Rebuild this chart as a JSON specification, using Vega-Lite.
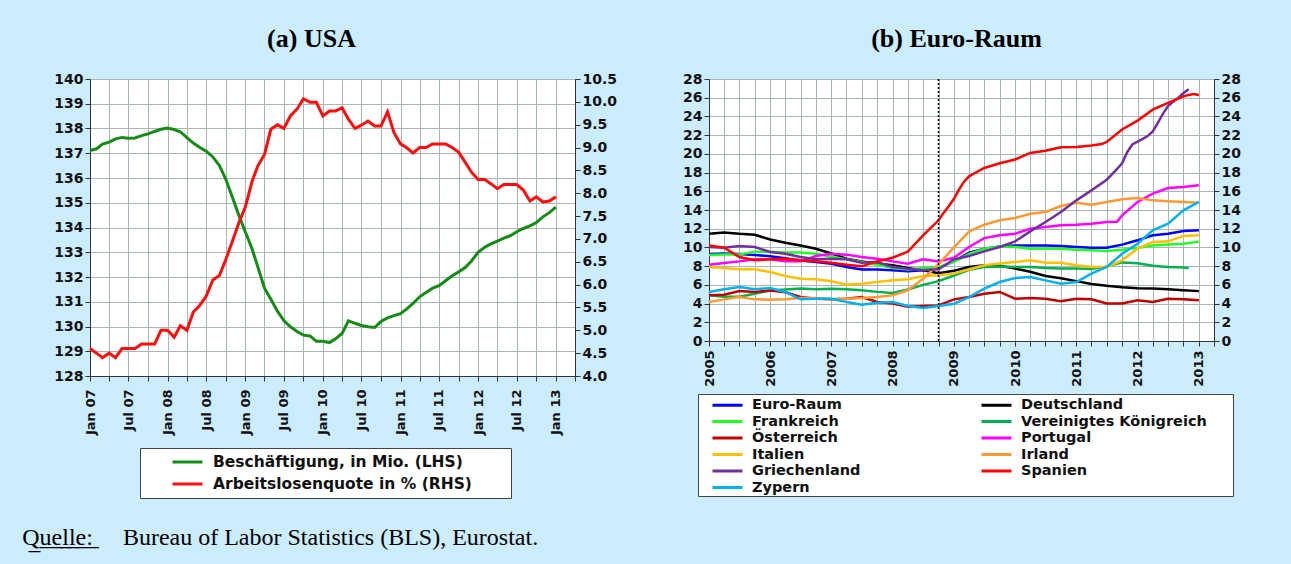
{
  "$schema": "https://vega.github.io/schema/vega-lite/v6.json",
  "background": "#CCECFF",
  "padding": {"left": 22, "top": 25, "right": 51, "bottom": 24},
  "autosize": {"type": "pad"},
  "title": {
    "text": "Q\u0332u\u0332e\u0332l\u0332l\u0332e\u0332:\u0332\u00a0\u00a0\u00a0\u00a0\u00a0Bureau of Labor Statistics (BLS), Eurostat.",
    "orient": "bottom", "anchor": "start", "frame": "bounds",
    "font": "Liberation Serif", "fontSize": 24, "fontWeight": "normal", "color": "black",
    "offset": 27, "dx": -31
  },
  "datasets": {
    "us": [
      {"d":"2007-01-01","emp":137.11,"ue":4.6},{"d":"2007-02-01","emp":137.18,"ue":4.5},{"d":"2007-03-01","emp":137.37,"ue":4.4},
      {"d":"2007-04-01","emp":137.45,"ue":4.5},{"d":"2007-05-01","emp":137.58,"ue":4.4},{"d":"2007-06-01","emp":137.64,"ue":4.6},
      {"d":"2007-07-01","emp":137.61,"ue":4.6},{"d":"2007-08-01","emp":137.62,"ue":4.6},{"d":"2007-09-01","emp":137.71,"ue":4.7},
      {"d":"2007-10-01","emp":137.78,"ue":4.7},{"d":"2007-11-01","emp":137.88,"ue":4.7},{"d":"2007-12-01","emp":137.97,"ue":5.0},
      {"d":"2008-01-01","emp":138.02,"ue":5.0},{"d":"2008-02-01","emp":137.96,"ue":4.85},{"d":"2008-03-01","emp":137.87,"ue":5.1},
      {"d":"2008-04-01","emp":137.63,"ue":5.0},{"d":"2008-05-01","emp":137.41,"ue":5.4},{"d":"2008-06-01","emp":137.23,"ue":5.55},
      {"d":"2008-07-01","emp":137.08,"ue":5.75},{"d":"2008-08-01","emp":136.85,"ue":6.1},{"d":"2008-09-01","emp":136.5,"ue":6.2},
      {"d":"2008-10-01","emp":135.95,"ue":6.55},{"d":"2008-11-01","emp":135.22,"ue":6.95},{"d":"2008-12-01","emp":134.5,"ue":7.35},
      {"d":"2009-01-01","emp":133.82,"ue":7.7},{"d":"2009-02-01","emp":133.15,"ue":8.25},{"d":"2009-03-01","emp":132.4,"ue":8.6},
      {"d":"2009-04-01","emp":131.55,"ue":8.85},{"d":"2009-05-01","emp":131.1,"ue":9.4},{"d":"2009-06-01","emp":130.62,"ue":9.5},
      {"d":"2009-07-01","emp":130.24,"ue":9.42},{"d":"2009-08-01","emp":129.99,"ue":9.69},{"d":"2009-09-01","emp":129.8,"ue":9.84},
      {"d":"2009-10-01","emp":129.65,"ue":10.07},{"d":"2009-11-01","emp":129.62,"ue":9.99},{"d":"2009-12-01","emp":129.4,"ue":9.99},
      {"d":"2010-01-01","emp":129.4,"ue":9.69},{"d":"2010-02-01","emp":129.35,"ue":9.8},{"d":"2010-03-01","emp":129.5,"ue":9.8},
      {"d":"2010-04-01","emp":129.72,"ue":9.87},{"d":"2010-05-01","emp":130.23,"ue":9.62},{"d":"2010-06-01","emp":130.13,"ue":9.42},
      {"d":"2010-07-01","emp":130.04,"ue":9.49},{"d":"2010-08-01","emp":129.99,"ue":9.58},{"d":"2010-09-01","emp":129.96,"ue":9.47},
      {"d":"2010-10-01","emp":130.2,"ue":9.47},{"d":"2010-11-01","emp":130.35,"ue":9.78},{"d":"2010-12-01","emp":130.44,"ue":9.33},
      {"d":"2011-01-01","emp":130.52,"ue":9.08},{"d":"2011-02-01","emp":130.72,"ue":8.99},{"d":"2011-03-01","emp":130.93,"ue":8.88},
      {"d":"2011-04-01","emp":131.2,"ue":9.0},{"d":"2011-05-01","emp":131.37,"ue":9.0},{"d":"2011-06-01","emp":131.55,"ue":9.08},
      {"d":"2011-07-01","emp":131.65,"ue":9.08},{"d":"2011-08-01","emp":131.85,"ue":9.08},{"d":"2011-09-01","emp":132.05,"ue":9.0},
      {"d":"2011-10-01","emp":132.2,"ue":8.9},{"d":"2011-11-01","emp":132.38,"ue":8.68},{"d":"2011-12-01","emp":132.65,"ue":8.46},
      {"d":"2012-01-01","emp":133.0,"ue":8.3},{"d":"2012-02-01","emp":133.2,"ue":8.3},{"d":"2012-03-01","emp":133.34,"ue":8.21},
      {"d":"2012-04-01","emp":133.45,"ue":8.1},{"d":"2012-05-01","emp":133.57,"ue":8.19},{"d":"2012-06-01","emp":133.67,"ue":8.19},
      {"d":"2012-07-01","emp":133.83,"ue":8.19},{"d":"2012-08-01","emp":133.96,"ue":8.07},{"d":"2012-09-01","emp":134.07,"ue":7.83},
      {"d":"2012-10-01","emp":134.2,"ue":7.92},{"d":"2012-11-01","emp":134.43,"ue":7.81},{"d":"2012-12-01","emp":134.6,"ue":7.83},
      {"d":"2013-01-01","emp":134.82,"ue":7.92}
    ],
    "ez": [
      {"c":"Euro-Raum","d":"2005-01-01","v":9.3},{"c":"Euro-Raum","d":"2005-04-01","v":9.35},{"c":"Euro-Raum","d":"2005-07-01","v":9.3},{"c":"Euro-Raum","d":"2005-10-01","v":9.2},
      {"c":"Euro-Raum","d":"2006-01-01","v":9.05},{"c":"Euro-Raum","d":"2006-04-01","v":8.85},{"c":"Euro-Raum","d":"2006-07-01","v":8.6},{"c":"Euro-Raum","d":"2006-10-01","v":8.45},
      {"c":"Euro-Raum","d":"2007-01-01","v":8.25},{"c":"Euro-Raum","d":"2007-04-01","v":7.9},{"c":"Euro-Raum","d":"2007-07-01","v":7.65},{"c":"Euro-Raum","d":"2007-10-01","v":7.65},
      {"c":"Euro-Raum","d":"2008-01-01","v":7.55},{"c":"Euro-Raum","d":"2008-04-01","v":7.45},{"c":"Euro-Raum","d":"2008-07-01","v":7.55},{"c":"Euro-Raum","d":"2008-10-01","v":7.8},
      {"c":"Euro-Raum","d":"2009-01-01","v":8.5},{"c":"Euro-Raum","d":"2009-04-01","v":9.44},{"c":"Euro-Raum","d":"2009-07-01","v":9.87},{"c":"Euro-Raum","d":"2009-10-01","v":10.1},
      {"c":"Euro-Raum","d":"2010-01-01","v":10.2},{"c":"Euro-Raum","d":"2010-04-01","v":10.2},{"c":"Euro-Raum","d":"2010-07-01","v":10.2},{"c":"Euro-Raum","d":"2010-10-01","v":10.15},
      {"c":"Euro-Raum","d":"2011-01-01","v":10.05},{"c":"Euro-Raum","d":"2011-04-01","v":9.97},{"c":"Euro-Raum","d":"2011-07-01","v":9.97},{"c":"Euro-Raum","d":"2011-10-01","v":10.3},
      {"c":"Euro-Raum","d":"2012-01-01","v":10.76},{"c":"Euro-Raum","d":"2012-04-01","v":11.3},{"c":"Euro-Raum","d":"2012-07-01","v":11.47},{"c":"Euro-Raum","d":"2012-10-01","v":11.76},
      {"c":"Euro-Raum","d":"2013-01-01","v":11.83},

      {"c":"Deutschland","d":"2005-01-01","v":11.47},{"c":"Deutschland","d":"2005-04-01","v":11.6},{"c":"Deutschland","d":"2005-07-01","v":11.45},{"c":"Deutschland","d":"2005-10-01","v":11.35},
      {"c":"Deutschland","d":"2006-01-01","v":10.85},{"c":"Deutschland","d":"2006-04-01","v":10.5},{"c":"Deutschland","d":"2006-07-01","v":10.2},{"c":"Deutschland","d":"2006-10-01","v":9.85},
      {"c":"Deutschland","d":"2007-01-01","v":9.35},{"c":"Deutschland","d":"2007-04-01","v":8.8},{"c":"Deutschland","d":"2007-07-01","v":8.5},{"c":"Deutschland","d":"2007-10-01","v":8.27},
      {"c":"Deutschland","d":"2008-01-01","v":8.1},{"c":"Deutschland","d":"2008-04-01","v":7.8},{"c":"Deutschland","d":"2008-07-01","v":7.55},{"c":"Deutschland","d":"2008-10-01","v":7.25},
      {"c":"Deutschland","d":"2009-01-01","v":7.5},{"c":"Deutschland","d":"2009-04-01","v":7.9},{"c":"Deutschland","d":"2009-07-01","v":8.1},{"c":"Deutschland","d":"2009-10-01","v":8.05},
      {"c":"Deutschland","d":"2010-01-01","v":7.75},{"c":"Deutschland","d":"2010-04-01","v":7.4},{"c":"Deutschland","d":"2010-07-01","v":6.95},{"c":"Deutschland","d":"2010-10-01","v":6.7},
      {"c":"Deutschland","d":"2011-01-01","v":6.4},{"c":"Deutschland","d":"2011-04-01","v":6.1},{"c":"Deutschland","d":"2011-07-01","v":5.9},{"c":"Deutschland","d":"2011-10-01","v":5.75},
      {"c":"Deutschland","d":"2012-01-01","v":5.65},{"c":"Deutschland","d":"2012-04-01","v":5.6},{"c":"Deutschland","d":"2012-07-01","v":5.52},{"c":"Deutschland","d":"2012-10-01","v":5.42},
      {"c":"Deutschland","d":"2013-01-01","v":5.33},

      {"c":"Frankreich","d":"2005-01-01","v":9.2},{"c":"Frankreich","d":"2005-04-01","v":9.25},{"c":"Frankreich","d":"2005-07-01","v":9.25},{"c":"Frankreich","d":"2005-10-01","v":9.55},
      {"c":"Frankreich","d":"2006-01-01","v":9.55},{"c":"Frankreich","d":"2006-04-01","v":9.45},{"c":"Frankreich","d":"2006-07-01","v":9.45},{"c":"Frankreich","d":"2006-10-01","v":9.33},
      {"c":"Frankreich","d":"2007-01-01","v":9.0},{"c":"Frankreich","d":"2007-04-01","v":8.73},{"c":"Frankreich","d":"2007-07-01","v":8.45},{"c":"Frankreich","d":"2007-10-01","v":8.15},
      {"c":"Frankreich","d":"2008-01-01","v":7.8},{"c":"Frankreich","d":"2008-04-01","v":7.65},{"c":"Frankreich","d":"2008-07-01","v":7.8},{"c":"Frankreich","d":"2008-10-01","v":7.9},
      {"c":"Frankreich","d":"2009-01-01","v":8.45},{"c":"Frankreich","d":"2009-04-01","v":9.3},{"c":"Frankreich","d":"2009-07-01","v":9.85},{"c":"Frankreich","d":"2009-10-01","v":10.1},
      {"c":"Frankreich","d":"2010-01-01","v":10.05},{"c":"Frankreich","d":"2010-04-01","v":9.87},{"c":"Frankreich","d":"2010-07-01","v":9.85},{"c":"Frankreich","d":"2010-10-01","v":9.85},
      {"c":"Frankreich","d":"2011-01-01","v":9.75},{"c":"Frankreich","d":"2011-04-01","v":9.7},{"c":"Frankreich","d":"2011-07-01","v":9.62},{"c":"Frankreich","d":"2011-10-01","v":9.75},
      {"c":"Frankreich","d":"2012-01-01","v":9.95},{"c":"Frankreich","d":"2012-04-01","v":10.2},{"c":"Frankreich","d":"2012-07-01","v":10.3},{"c":"Frankreich","d":"2012-10-01","v":10.4},
      {"c":"Frankreich","d":"2013-01-01","v":10.62},

      {"c":"Vereinigtes Königreich","d":"2005-01-01","v":4.88},{"c":"Vereinigtes Königreich","d":"2005-04-01","v":4.72},{"c":"Vereinigtes Königreich","d":"2005-07-01","v":4.72},{"c":"Vereinigtes Königreich","d":"2005-10-01","v":5.05},
      {"c":"Vereinigtes Königreich","d":"2006-01-01","v":5.4},{"c":"Vereinigtes Königreich","d":"2006-04-01","v":5.5},{"c":"Vereinigtes Königreich","d":"2006-07-01","v":5.6},{"c":"Vereinigtes Königreich","d":"2006-10-01","v":5.52},
      {"c":"Vereinigtes Königreich","d":"2007-01-01","v":5.58},{"c":"Vereinigtes Königreich","d":"2007-04-01","v":5.52},{"c":"Vereinigtes Königreich","d":"2007-07-01","v":5.42},{"c":"Vereinigtes Königreich","d":"2007-10-01","v":5.25},
      {"c":"Vereinigtes Königreich","d":"2008-01-01","v":5.13},{"c":"Vereinigtes Königreich","d":"2008-04-01","v":5.5},{"c":"Vereinigtes Königreich","d":"2008-07-01","v":6.0},{"c":"Vereinigtes Königreich","d":"2008-10-01","v":6.4},
      {"c":"Vereinigtes Königreich","d":"2009-01-01","v":7.0},{"c":"Vereinigtes Königreich","d":"2009-04-01","v":7.6},{"c":"Vereinigtes Königreich","d":"2009-07-01","v":7.9},{"c":"Vereinigtes Königreich","d":"2009-10-01","v":7.95},
      {"c":"Vereinigtes Königreich","d":"2010-01-01","v":7.9},{"c":"Vereinigtes Königreich","d":"2010-04-01","v":7.9},{"c":"Vereinigtes Königreich","d":"2010-07-01","v":7.8},{"c":"Vereinigtes Königreich","d":"2010-10-01","v":7.75},
      {"c":"Vereinigtes Königreich","d":"2011-01-01","v":7.75},{"c":"Vereinigtes Königreich","d":"2011-04-01","v":7.7},{"c":"Vereinigtes Königreich","d":"2011-07-01","v":7.95},{"c":"Vereinigtes Königreich","d":"2011-10-01","v":8.4},
      {"c":"Vereinigtes Königreich","d":"2012-01-01","v":8.3},{"c":"Vereinigtes Königreich","d":"2012-04-01","v":8.05},{"c":"Vereinigtes Königreich","d":"2012-07-01","v":7.9},{"c":"Vereinigtes Königreich","d":"2012-10-01","v":7.85},
      {"c":"Vereinigtes Königreich","d":"2012-11-01","v":7.8},

      {"c":"Österreich","d":"2005-01-01","v":4.88},{"c":"Österreich","d":"2005-04-01","v":4.95},{"c":"Österreich","d":"2005-07-01","v":5.35},{"c":"Österreich","d":"2005-10-01","v":5.24},
      {"c":"Österreich","d":"2006-01-01","v":5.4},{"c":"Österreich","d":"2006-04-01","v":5.2},{"c":"Österreich","d":"2006-07-01","v":4.7},{"c":"Österreich","d":"2006-10-01","v":4.52},
      {"c":"Österreich","d":"2007-01-01","v":4.45},{"c":"Österreich","d":"2007-04-01","v":4.52},{"c":"Österreich","d":"2007-07-01","v":4.7},{"c":"Österreich","d":"2007-10-01","v":4.17},
      {"c":"Österreich","d":"2008-01-01","v":4.0},{"c":"Österreich","d":"2008-04-01","v":3.65},{"c":"Österreich","d":"2008-07-01","v":3.75},{"c":"Österreich","d":"2008-10-01","v":3.8},
      {"c":"Österreich","d":"2009-01-01","v":4.45},{"c":"Österreich","d":"2009-04-01","v":4.7},{"c":"Österreich","d":"2009-07-01","v":5.05},{"c":"Österreich","d":"2009-10-01","v":5.24},
      {"c":"Österreich","d":"2010-01-01","v":4.52},{"c":"Österreich","d":"2010-04-01","v":4.6},{"c":"Österreich","d":"2010-07-01","v":4.52},{"c":"Österreich","d":"2010-10-01","v":4.24},
      {"c":"Österreich","d":"2011-01-01","v":4.52},{"c":"Österreich","d":"2011-04-01","v":4.45},{"c":"Österreich","d":"2011-07-01","v":4.0},{"c":"Österreich","d":"2011-10-01","v":4.0},
      {"c":"Österreich","d":"2012-01-01","v":4.35},{"c":"Österreich","d":"2012-04-01","v":4.17},{"c":"Österreich","d":"2012-07-01","v":4.52},{"c":"Österreich","d":"2012-10-01","v":4.45},
      {"c":"Österreich","d":"2013-01-01","v":4.35},

      {"c":"Portugal","d":"2005-01-01","v":8.16},{"c":"Portugal","d":"2005-04-01","v":8.34},{"c":"Portugal","d":"2005-07-01","v":8.51},{"c":"Portugal","d":"2005-10-01","v":8.73},
      {"c":"Portugal","d":"2006-01-01","v":8.73},{"c":"Portugal","d":"2006-04-01","v":8.51},{"c":"Portugal","d":"2006-07-01","v":8.51},{"c":"Portugal","d":"2006-10-01","v":9.08},
      {"c":"Portugal","d":"2007-01-01","v":9.33},{"c":"Portugal","d":"2007-04-01","v":9.23},{"c":"Portugal","d":"2007-07-01","v":8.98},{"c":"Portugal","d":"2007-10-01","v":8.8},
      {"c":"Portugal","d":"2008-01-01","v":8.51},{"c":"Portugal","d":"2008-04-01","v":8.27},{"c":"Portugal","d":"2008-07-01","v":8.73},{"c":"Portugal","d":"2008-10-01","v":8.51},
      {"c":"Portugal","d":"2009-01-01","v":8.9},{"c":"Portugal","d":"2009-04-01","v":10.05},{"c":"Portugal","d":"2009-07-01","v":11.0},{"c":"Portugal","d":"2009-10-01","v":11.29},
      {"c":"Portugal","d":"2010-01-01","v":11.47},{"c":"Portugal","d":"2010-04-01","v":12.0},{"c":"Portugal","d":"2010-07-01","v":12.18},{"c":"Portugal","d":"2010-10-01","v":12.36},
      {"c":"Portugal","d":"2011-01-01","v":12.43},{"c":"Portugal","d":"2011-04-01","v":12.54},{"c":"Portugal","d":"2011-07-01","v":12.72},{"c":"Portugal","d":"2011-09-01","v":12.75},{"c":"Portugal","d":"2011-10-01","v":13.43},
      {"c":"Portugal","d":"2012-01-01","v":14.86},{"c":"Portugal","d":"2012-04-01","v":15.75},{"c":"Portugal","d":"2012-07-01","v":16.35},{"c":"Portugal","d":"2012-10-01","v":16.46},
      {"c":"Portugal","d":"2013-01-01","v":16.64},

      {"c":"Italien","d":"2005-01-01","v":7.9},{"c":"Italien","d":"2005-04-01","v":7.8},{"c":"Italien","d":"2005-07-01","v":7.66},{"c":"Italien","d":"2005-10-01","v":7.66},
      {"c":"Italien","d":"2006-01-01","v":7.37},{"c":"Italien","d":"2006-04-01","v":6.95},{"c":"Italien","d":"2006-07-01","v":6.66},{"c":"Italien","d":"2006-10-01","v":6.59},
      {"c":"Italien","d":"2007-01-01","v":6.38},{"c":"Italien","d":"2007-04-01","v":6.02},{"c":"Italien","d":"2007-07-01","v":6.13},{"c":"Italien","d":"2007-10-01","v":6.3},
      {"c":"Italien","d":"2008-01-01","v":6.48},{"c":"Italien","d":"2008-04-01","v":6.59},{"c":"Italien","d":"2008-07-01","v":6.95},{"c":"Italien","d":"2008-10-01","v":7.02},
      {"c":"Italien","d":"2009-01-01","v":7.2},{"c":"Italien","d":"2009-04-01","v":7.66},{"c":"Italien","d":"2009-07-01","v":8.09},{"c":"Italien","d":"2009-10-01","v":8.27},
      {"c":"Italien","d":"2010-01-01","v":8.44},{"c":"Italien","d":"2010-04-01","v":8.62},{"c":"Italien","d":"2010-07-01","v":8.37},{"c":"Italien","d":"2010-10-01","v":8.37},
      {"c":"Italien","d":"2011-01-01","v":8.09},{"c":"Italien","d":"2011-04-01","v":7.91},{"c":"Italien","d":"2011-07-01","v":7.91},{"c":"Italien","d":"2011-10-01","v":8.62},
      {"c":"Italien","d":"2012-01-01","v":9.87},{"c":"Italien","d":"2012-04-01","v":10.58},{"c":"Italien","d":"2012-07-01","v":10.65},{"c":"Italien","d":"2012-10-01","v":11.22},
      {"c":"Italien","d":"2013-01-01","v":11.29},

      {"c":"Irland","d":"2005-01-01","v":4.17},{"c":"Irland","d":"2005-04-01","v":4.45},{"c":"Irland","d":"2005-07-01","v":4.7},{"c":"Irland","d":"2005-10-01","v":4.45},
      {"c":"Irland","d":"2006-01-01","v":4.42},{"c":"Irland","d":"2006-04-01","v":4.45},{"c":"Irland","d":"2006-07-01","v":4.6},{"c":"Irland","d":"2006-10-01","v":4.6},
      {"c":"Irland","d":"2007-01-01","v":4.45},{"c":"Irland","d":"2007-04-01","v":4.52},{"c":"Irland","d":"2007-07-01","v":4.6},{"c":"Irland","d":"2007-10-01","v":4.7},
      {"c":"Irland","d":"2008-01-01","v":4.88},{"c":"Irland","d":"2008-04-01","v":5.42},{"c":"Irland","d":"2008-07-01","v":6.66},{"c":"Irland","d":"2008-10-01","v":8.2},
      {"c":"Irland","d":"2009-01-01","v":10.0},{"c":"Irland","d":"2009-04-01","v":11.7},{"c":"Irland","d":"2009-07-01","v":12.43},{"c":"Irland","d":"2009-10-01","v":12.9},
      {"c":"Irland","d":"2010-01-01","v":13.15},{"c":"Irland","d":"2010-04-01","v":13.6},{"c":"Irland","d":"2010-07-01","v":13.79},{"c":"Irland","d":"2010-10-01","v":14.43},
      {"c":"Irland","d":"2011-01-01","v":14.78},{"c":"Irland","d":"2011-04-01","v":14.57},{"c":"Irland","d":"2011-07-01","v":14.86},{"c":"Irland","d":"2011-10-01","v":15.14},
      {"c":"Irland","d":"2012-01-01","v":15.28},{"c":"Irland","d":"2012-04-01","v":15.03},{"c":"Irland","d":"2012-07-01","v":14.93},{"c":"Irland","d":"2012-10-01","v":14.86},
      {"c":"Irland","d":"2013-01-01","v":14.78},

      {"c":"Griechenland","d":"2005-01-01","v":10.05},{"c":"Griechenland","d":"2005-04-01","v":9.97},{"c":"Griechenland","d":"2005-07-01","v":10.15},{"c":"Griechenland","d":"2005-10-01","v":10.05},
      {"c":"Griechenland","d":"2006-01-01","v":9.51},{"c":"Griechenland","d":"2006-04-01","v":9.33},{"c":"Griechenland","d":"2006-07-01","v":8.98},{"c":"Griechenland","d":"2006-10-01","v":8.73},
      {"c":"Griechenland","d":"2007-01-01","v":8.8},{"c":"Griechenland","d":"2007-04-01","v":8.73},{"c":"Griechenland","d":"2007-07-01","v":8.37},{"c":"Griechenland","d":"2007-10-01","v":8.44},
      {"c":"Griechenland","d":"2008-01-01","v":7.91},{"c":"Griechenland","d":"2008-04-01","v":7.73},{"c":"Griechenland","d":"2008-07-01","v":7.55},{"c":"Griechenland","d":"2008-10-01","v":7.66},
      {"c":"Griechenland","d":"2009-01-01","v":8.73},{"c":"Griechenland","d":"2009-04-01","v":9.08},{"c":"Griechenland","d":"2009-07-01","v":9.58},{"c":"Griechenland","d":"2009-10-01","v":10.05},
      {"c":"Griechenland","d":"2010-01-01","v":10.65},{"c":"Griechenland","d":"2010-04-01","v":11.72},{"c":"Griechenland","d":"2010-07-01","v":12.72},{"c":"Griechenland","d":"2010-10-01","v":13.79},
      {"c":"Griechenland","d":"2011-01-01","v":15.03},{"c":"Griechenland","d":"2011-04-01","v":16.1},{"c":"Griechenland","d":"2011-07-01","v":17.24},{"c":"Griechenland","d":"2011-08-01","v":17.8},
      {"c":"Griechenland","d":"2011-09-01","v":18.4},{"c":"Griechenland","d":"2011-10-01","v":19.0},{"c":"Griechenland","d":"2011-11-01","v":20.2},{"c":"Griechenland","d":"2011-12-01","v":21.0},
      {"c":"Griechenland","d":"2012-01-01","v":21.3},{"c":"Griechenland","d":"2012-02-01","v":21.6},{"c":"Griechenland","d":"2012-03-01","v":21.9},{"c":"Griechenland","d":"2012-04-01","v":22.4},
      {"c":"Griechenland","d":"2012-05-01","v":23.3},{"c":"Griechenland","d":"2012-06-01","v":24.3},{"c":"Griechenland","d":"2012-07-01","v":25.1},{"c":"Griechenland","d":"2012-08-01","v":25.6},
      {"c":"Griechenland","d":"2012-09-01","v":26.0},{"c":"Griechenland","d":"2012-10-01","v":26.5},{"c":"Griechenland","d":"2012-11-01","v":26.9},

      {"c":"Spanien","d":"2005-01-01","v":10.22},{"c":"Spanien","d":"2005-04-01","v":9.97},{"c":"Spanien","d":"2005-07-01","v":8.98},{"c":"Spanien","d":"2005-10-01","v":8.62},
      {"c":"Spanien","d":"2006-01-01","v":8.73},{"c":"Spanien","d":"2006-04-01","v":8.8},{"c":"Spanien","d":"2006-07-01","v":8.62},{"c":"Spanien","d":"2006-10-01","v":8.51},
      {"c":"Spanien","d":"2007-01-01","v":8.37},{"c":"Spanien","d":"2007-04-01","v":8.16},{"c":"Spanien","d":"2007-07-01","v":7.98},{"c":"Spanien","d":"2007-10-01","v":8.51},
      {"c":"Spanien","d":"2008-01-01","v":8.9},{"c":"Spanien","d":"2008-04-01","v":9.55},{"c":"Spanien","d":"2008-07-01","v":11.29},{"c":"Spanien","d":"2008-10-01","v":12.9},
      {"c":"Spanien","d":"2008-11-01","v":13.7},{"c":"Spanien","d":"2008-12-01","v":14.4},{"c":"Spanien","d":"2009-01-01","v":15.2},{"c":"Spanien","d":"2009-02-01","v":16.2},
      {"c":"Spanien","d":"2009-03-01","v":17.0},{"c":"Spanien","d":"2009-04-01","v":17.6},{"c":"Spanien","d":"2009-05-01","v":17.9},{"c":"Spanien","d":"2009-07-01","v":18.49},
      {"c":"Spanien","d":"2009-10-01","v":19.0},{"c":"Spanien","d":"2010-01-01","v":19.4},{"c":"Spanien","d":"2010-04-01","v":20.1},{"c":"Spanien","d":"2010-07-01","v":20.34},
      {"c":"Spanien","d":"2010-10-01","v":20.7},{"c":"Spanien","d":"2011-01-01","v":20.73},{"c":"Spanien","d":"2011-04-01","v":20.9},{"c":"Spanien","d":"2011-06-01","v":21.05},
      {"c":"Spanien","d":"2011-07-01","v":21.27},{"c":"Spanien","d":"2011-10-01","v":22.6},{"c":"Spanien","d":"2012-01-01","v":23.55},{"c":"Spanien","d":"2012-04-01","v":24.72},
      {"c":"Spanien","d":"2012-07-01","v":25.44},{"c":"Spanien","d":"2012-10-01","v":26.15},{"c":"Spanien","d":"2012-11-01","v":26.3},{"c":"Spanien","d":"2012-12-01","v":26.4},
      {"c":"Spanien","d":"2013-01-01","v":26.3},

      {"c":"Zypern","d":"2005-01-01","v":5.24},{"c":"Zypern","d":"2005-04-01","v":5.52},{"c":"Zypern","d":"2005-07-01","v":5.77},{"c":"Zypern","d":"2005-10-01","v":5.52},
      {"c":"Zypern","d":"2006-01-01","v":5.66},{"c":"Zypern","d":"2006-04-01","v":5.24},{"c":"Zypern","d":"2006-07-01","v":4.45},{"c":"Zypern","d":"2006-10-01","v":4.52},
      {"c":"Zypern","d":"2007-01-01","v":4.52},{"c":"Zypern","d":"2007-04-01","v":4.17},{"c":"Zypern","d":"2007-07-01","v":3.88},{"c":"Zypern","d":"2007-10-01","v":4.1},
      {"c":"Zypern","d":"2008-01-01","v":4.17},{"c":"Zypern","d":"2008-04-01","v":3.74},{"c":"Zypern","d":"2008-07-01","v":3.53},{"c":"Zypern","d":"2008-10-01","v":3.74},
      {"c":"Zypern","d":"2009-01-01","v":3.99},{"c":"Zypern","d":"2009-04-01","v":4.7},{"c":"Zypern","d":"2009-07-01","v":5.59},{"c":"Zypern","d":"2009-10-01","v":6.3},
      {"c":"Zypern","d":"2010-01-01","v":6.73},{"c":"Zypern","d":"2010-04-01","v":6.84},{"c":"Zypern","d":"2010-07-01","v":6.48},{"c":"Zypern","d":"2010-10-01","v":6.13},
      {"c":"Zypern","d":"2011-01-01","v":6.3},{"c":"Zypern","d":"2011-04-01","v":7.2},{"c":"Zypern","d":"2011-07-01","v":7.91},{"c":"Zypern","d":"2011-10-01","v":9.33},
      {"c":"Zypern","d":"2012-01-01","v":10.4},{"c":"Zypern","d":"2012-04-01","v":11.83},{"c":"Zypern","d":"2012-07-01","v":12.54},{"c":"Zypern","d":"2012-10-01","v":13.97},
      {"c":"Zypern","d":"2013-01-01","v":14.86}
    ],
    "event": [{"d": "2008-10-01"}]
  },
  "spacing": 64,
  "hconcat": [
    {
      "width": 485,
      "height": 297,
      "title": {"text": "(a) USA", "frame": "group", "dx": -21},
      "data": {"name": "us"},
      "layer": [
        {
          "mark": {"type": "line", "strokeWidth": 3},
          "encoding": {
            "x": {
              "field": "d", "type": "temporal",
              "scale": {"type": "utc", "domain": [{"year": 2007, "month": 1, "date": 1, "utc": true}, {"year": 2013, "month": 4, "date": 1, "utc": true}]},
              "axis": {
                "tickCount": {"interval": "month", "step": 3},
                "labelExpr": "utcmonth(datum.value) % 6 == 0 ? utcFormat(datum.value, '%b %y') : ''",
                "labelAngle": -90, "labelAlign": "right", "labelBaseline": "middle",
                "labelFontSize": 13, "labelPadding": 8, "labelOverlap": false, "labelFlush": false
              }
            },
            "y": {
              "field": "emp", "type": "quantitative",
              "scale": {"domain": [128, 140], "zero": false, "nice": false},
              "axis": {"orient": "left", "values": [128,129,130,131,132,133,134,135,136,137,138,139,140], "grid": true}
            },
            "color": {
              "datum": "Beschäftigung, in Mio. (LHS)",
              "scale": {"domain": ["Beschäftigung, in Mio. (LHS)", "Arbeitslosenquote in % (RHS)"], "range": ["#148c14", "#ff0d0d"]},
              "legend": {
                "orient": "none", "legendX": 50, "legendY": 369, "direction": "vertical",
                "title": "\u00a0", "titleOrient": "right", "titlePadding": 34, "titleFontSize": 8,
                "fillColor": "white", "strokeColor": "#444444", "padding": 5,
                "symbolType": "M-2,0H2", "symbolSize": 225, "symbolStrokeWidth": 3, "symbolOffset": 33.5,
                "labelOffset": 16.5, "rowPadding": 4, "labelFontSize": 15.5, "labelLimit": 400
              }
            }
          }
        },
        {
          "mark": {"type": "line", "strokeWidth": 3},
          "encoding": {
            "x": {"field": "d", "type": "temporal"},
            "y": {
              "field": "ue", "type": "quantitative",
              "scale": {"domain": [4, 10.5], "zero": false, "nice": false},
              "axis": {"orient": "right", "grid": false, "format": ".1f", "values": [4,4.5,5,5.5,6,6.5,7,7.5,8,8.5,9,9.5,10,10.5]}
            },
            "color": {"datum": "Arbeitslosenquote in % (RHS)"}
          }
        }
      ],
      "resolve": {"scale": {"y": "independent"}, "axis": {"y": "independent"}}
    },
    {
      "width": 505,
      "height": 262,
      "title": {"text": "(b) Euro-Raum", "frame": "group", "dx": -5},
      "layer": [
        {
          "data": {"name": "ez"},
          "mark": {"type": "line", "strokeWidth": 2.5},
          "encoding": {
            "x": {
              "field": "d", "type": "temporal",
              "scale": {"type": "utc", "domain": [{"year": 2005, "month": 1, "date": 1, "utc": true}, {"year": 2013, "month": 4, "date": 1, "utc": true}]},
              "axis": {
                "tickCount": {"interval": "month", "step": 3},
                "labelExpr": "utcmonth(datum.value) == 0 ? utcFormat(datum.value, '%Y') : ''",
                "labelAngle": -90, "labelAlign": "right", "labelBaseline": "middle",
                "labelFontSize": 13, "labelPadding": 4, "labelOverlap": false, "labelFlush": false
              }
            },
            "y": {
              "field": "v", "type": "quantitative",
              "scale": {"domain": [0, 28], "nice": false},
              "axis": {"orient": "left", "values": [0,2,4,6,8,10,12,14,16,18,20,22,24,26,28], "grid": true}
            },
            "color": {
              "field": "c", "type": "nominal",
              "scale": {
                "domain": ["Euro-Raum", "Deutschland", "Frankreich", "Vereinigtes Königreich", "Österreich", "Portugal", "Italien", "Irland", "Griechenland", "Spanien", "Zypern"],
                "range": ["#0000ff", "#000000", "#22ff22", "#00b050", "#c00000", "#ff00ff", "#ffc000", "#ff9933", "#7030a0", "#ff0000", "#00b0f0"]
              },
              "legend": {
                "orient": "none", "legendX": -11, "legendY": 315, "columns": 2, "direction": "horizontal",
                "title": "\u00a0", "titleOrient": "right", "titlePadding": 24, "titleFontSize": 8,
                "fillColor": "white", "strokeColor": "#444444", "padding": 2,
                "symbolType": "M-2,0H2", "symbolSize": 225, "symbolStrokeWidth": 3, "symbolOffset": 18.5,
                "labelOffset": 15.5, "rowPadding": 0.5, "columnPadding": 108, "labelFontSize": 14.5, "labelLimit": 400
              }
            }
          }
        },
        {
          "data": {"name": "event"},
          "mark": {"type": "rule", "color": "black", "strokeWidth": 1.5, "strokeDash": [2, 2]},
          "encoding": {
            "x": {"field": "d", "type": "temporal"},
            "y": {"datum": 0, "type": "quantitative", "axis": {"orient": "right", "values": [0,2,4,6,8,10,12,14,16,18,20,22,24,26,28], "grid": false}},
            "y2": {"datum": 28}
          }
        }
      ],
      "resolve": {"axis": {"y": "independent"}}
    }
  ],
  "resolve": {"scale": {"color": "independent", "x": "independent", "y": "independent"}, "legend": {"color": "independent"}},
  "config": {
    "font": "DejaVu Sans",
    "view": {"stroke": "#8c8c8c", "fill": "white"},
    "axis": {
      "title": null,
      "labelFont": "DejaVu Sans", "labelFontWeight": "bold", "labelFontSize": 14, "labelColor": "#111111",
      "domainColor": "#333333", "domainWidth": 1, "tickColor": "#333333", "tickSize": 5, "labelPadding": 2,
      "gridColor": "#a9b6b6", "gridOpacity": 1, "gridWidth": 1
    },
    "legend": {"labelFont": "DejaVu Sans", "labelFontWeight": "bold", "labelColor": "#111111", "cornerRadius": 0},
    "title": {"font": "Liberation Serif", "fontWeight": "bold", "fontSize": 26, "color": "#000000", "offset": 20}
  }
}
